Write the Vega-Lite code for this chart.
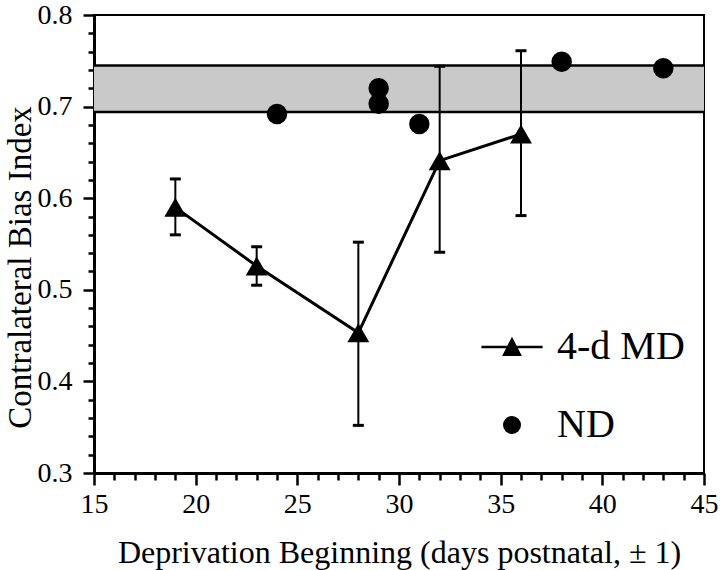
{
  "$schema": "https://vega.github.io/schema/vega-lite/v6.json",
  "autosize": "none",
  "padding": {"left": 94, "top": 15, "right": 16, "bottom": 97},
  "width": 610,
  "height": 458,
  "background": "white",
  "config": {
    "view": {"stroke": "black", "strokeWidth": 2},
    "font": "Liberation Serif",
    "axis": {
      "domainColor": "black", "domainWidth": 3, "tickColor": "black", "tickWidth": 2.5,
      "labelColor": "black", "labelFont": "Liberation Serif", "labelFontSize": 28,
      "titleColor": "black", "titleFont": "Liberation Serif", "titleFontSize": 32, "titleFontWeight": "normal",
      "grid": false, "labelOverlap": false, "labelFlush": false, "labelBound": false
    },
    "legend": {"labelFont": "Liberation Serif", "labelFontSize": 40, "labelColor": "black"}
  },
  "datasets": {
    "md": [
      {"day": 19, "cbi": 0.590, "lo": 0.560, "hi": 0.621},
      {"day": 23, "cbi": 0.526, "lo": 0.505, "hi": 0.547},
      {"day": 28, "cbi": 0.453, "lo": 0.352, "hi": 0.552},
      {"day": 32, "cbi": 0.641, "lo": 0.541, "hi": 0.744},
      {"day": 36, "cbi": 0.670, "lo": 0.581, "hi": 0.761}
    ],
    "nd": [
      {"day": 24, "cbi": 0.692, "group": "ND"},
      {"day": 29, "cbi": 0.720, "group": "ND"},
      {"day": 29, "cbi": 0.703, "group": "ND"},
      {"day": 31, "cbi": 0.681, "group": "ND"},
      {"day": 38, "cbi": 0.749, "group": "ND"},
      {"day": 43, "cbi": 0.742, "group": "ND"}
    ],
    "band": [{"lo": 0.694, "hi": 0.745}]
  },
  "layer": [
    {
      "data": {"name": "band"},
      "mark": {"type": "rect", "fill": "#c9c9c9"},
      "encoding": {
        "y": {"field": "lo", "type": "quantitative", "scale": {"domain": [0.3, 0.8], "nice": false, "zero": false},
          "axis": {
            "title": "Contralateral Bias Index",
            "values": [0.3,0.32,0.34,0.36,0.38,0.4,0.42,0.44,0.46,0.48,0.5,0.52,0.54,0.56,0.58,0.6,0.62,0.64,0.66,0.68,0.7,0.72,0.74,0.76,0.78,0.8],
            "tickCount": 200,
            "labelExpr": "abs(datum.value*10 - round(datum.value*10)) < 0.001 ? format(datum.value, '.1f') : ''",
            "tickSize": {"condition": {"test": "abs(datum.value*10 - round(datum.value*10)) < 0.001", "value": 11}, "value": 6},
            "labelPadding": 11, "labelOverlap": false, "labelFlush": false,
            "titleFontSize": 33,
            "titleX": -64, "titleY": 252, "titleBaseline": "alphabetic", "titleAlign": "center", "titleAngle": -90
          }},
        "y2": {"field": "hi"}
      }
    },
    {
      "data": {"name": "band"},
      "mark": {"type": "rule", "color": "black", "strokeWidth": 2.5},
      "encoding": {"y": {"field": "lo", "type": "quantitative"}}
    },
    {
      "data": {"name": "band"},
      "mark": {"type": "rule", "color": "black", "strokeWidth": 2.5},
      "encoding": {"y": {"field": "hi", "type": "quantitative"}}
    },
    {
      "data": {"name": "md"},
      "mark": {"type": "rule", "color": "black", "strokeWidth": 2},
      "encoding": {
        "x": {"field": "day", "type": "quantitative", "scale": {"domain": [15, 45], "nice": false, "zero": false},
          "axis": {
            "title": "Deprivation Beginning (days postnatal, \u00b1 1)",
            "values": [15,16,17,18,19,20,21,22,23,24,25,26,27,28,29,30,31,32,33,34,35,36,37,38,39,40,41,42,43,44,45],
            "tickCount": 200,
            "labelExpr": "datum.value % 5 === 0 ? format(datum.value, 'd') : ''",
            "tickSize": {"condition": {"test": "datum.value % 5 === 0", "value": 12}, "value": 7},
            "labelPadding": 5, "labelOverlap": false, "labelFlush": false,
            "titleY": 89, "titleBaseline": "alphabetic"
          }},
        "y": {"field": "lo", "type": "quantitative"},
        "y2": {"field": "hi"}
      }
    },
    {
      "data": {"name": "md"},
      "mark": {"type": "point", "shape": "stroke", "color": "black", "strokeWidth": 3, "size": 121, "opacity": 1},
      "encoding": {"x": {"field": "day", "type": "quantitative"}, "y": {"field": "lo", "type": "quantitative"}}
    },
    {
      "data": {"name": "md"},
      "mark": {"type": "point", "shape": "stroke", "color": "black", "strokeWidth": 3, "size": 121, "opacity": 1},
      "encoding": {"x": {"field": "day", "type": "quantitative"}, "y": {"field": "hi", "type": "quantitative"}}
    },
    {
      "data": {"name": "md"},
      "mark": {"type": "line", "color": "black", "strokeWidth": 3},
      "encoding": {"x": {"field": "day", "type": "quantitative"}, "y": {"field": "cbi", "type": "quantitative"}}
    },
    {
      "data": {"name": "md"},
      "mark": {"type": "point", "shape": "triangle-up", "filled": true, "color": "black", "size": 480, "opacity": 1},
      "encoding": {"x": {"field": "day", "type": "quantitative"}, "y": {"field": "cbi", "type": "quantitative"}}
    },
    {
      "data": {"name": "nd"},
      "mark": {"type": "point", "filled": true, "color": "black", "stroke": "black", "strokeWidth": 2.5, "size": 324, "opacity": 1},
      "encoding": {
        "x": {"field": "day", "type": "quantitative"},
        "y": {"field": "cbi", "type": "quantitative"},
        "shape": {"field": "group", "type": "nominal",
          "scale": {"domain": ["4-d MD", "ND"], "range": ["M-3.4,-0.15H3.4V0.15H-3.4ZM-1.1,1.0L0,-1.15L1.1,1.0Z", "circle"]},
          "legend": {"title": null, "orient": "none", "legendX": 398, "legendY": 312, "padding": 0,
            "labelOffset": 25, "rowPadding": 38, "symbolSize": 324,
            "symbolStrokeColor": "black", "symbolStrokeWidth": 2.5, "symbolFillColor": "black",
            "encode": {"symbols": {"stroke": {"value": "black"}, "strokeWidth": {"value": 2.5}, "fill": {"value": "black"}, "size": {"value": 324}, "opacity": {"value": 1}}}}}
      }
    }
  ]
}
